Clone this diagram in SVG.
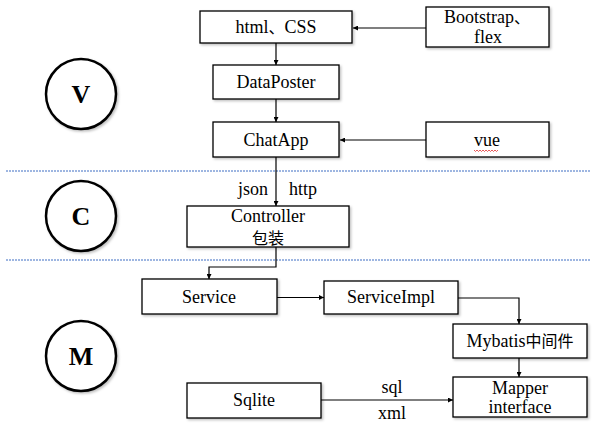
<svg xmlns="http://www.w3.org/2000/svg" width="606" height="431" viewBox="0 0 606 431" font-family="'Liberation Serif', 'Times New Roman', serif">
<style>
.box{fill:#fff;stroke:#000;stroke-width:1.3;filter:url(#sh)}
.t{font-size:18px;fill:#000;text-anchor:middle}
.lbl{font-size:18px;fill:#000}
.cjk{font-family:'Noto Sans CJK SC',sans-serif;font-size:16px}
.circ{fill:#fff;stroke:#000;stroke-width:2.5;filter:url(#sh)}
.big{font-size:26px;font-weight:bold;text-anchor:middle}
.c{fill:none;stroke:#000;stroke-width:1.2}
.sep{stroke:#7f9fd8;stroke-width:1.3;stroke-dasharray:2 1}
</style>
<defs>
<filter id="sh" x="-10%" y="-10%" width="130%" height="140%">
<feDropShadow dx="1.5" dy="1.5" stdDeviation="1" flood-color="#000" flood-opacity="0.25"/>
</filter>
<marker id="a" viewBox="0 0 10 10" refX="10" refY="5" markerWidth="5" markerHeight="5" orient="auto" markerUnits="userSpaceOnUse">
<path d="M0,0 L10,5 L0,10 z" fill="#000"/>
</marker>
</defs>
<rect width="606" height="431" fill="#fff"/>
<g id="separators">
<line class="sep" x1="6" y1="171" x2="590" y2="171"/>
<line class="sep" x1="6" y1="260" x2="590" y2="260"/>
</g>
<g id="layer-V"><circle class="circ" cx="81" cy="94" r="35"/><text class="big" x="81" y="103">V</text></g>
<g id="layer-C"><circle class="circ" cx="81" cy="216" r="35"/><text class="big" x="81" y="225">C</text></g>
<g id="layer-M"><circle class="circ" cx="81" cy="356" r="35"/><text class="big" x="81" y="365">M</text></g>
<g id="connectors">
<line class="c" x1="426" y1="28" x2="353" y2="28" marker-end="url(#a)"/>
<line class="c" x1="276" y1="43" x2="276" y2="65" marker-end="url(#a)"/>
<line class="c" x1="276" y1="99" x2="276" y2="122" marker-end="url(#a)"/>
<line class="c" x1="426" y1="140" x2="340" y2="140" marker-end="url(#a)"/>
<line class="c" x1="276" y1="157" x2="276" y2="206" marker-end="url(#a)"/>
<polyline class="c" points="276,247 276,267 209,267 209,279" marker-end="url(#a)"/>
<line class="c" x1="277" y1="297.5" x2="324" y2="297.5" marker-end="url(#a)"/>
<polyline class="c" points="458,298 519,298 519,324" marker-end="url(#a)"/>
<line class="c" x1="519" y1="358" x2="519" y2="377" marker-end="url(#a)"/>
<line class="c" x1="321" y1="400" x2="453" y2="400" marker-end="url(#a)"/>
<text class="lbl" x="268" y="195" text-anchor="end">json</text>
<text class="lbl" x="289" y="195">http</text>
<text class="lbl" x="392" y="393" text-anchor="middle">sql</text>
<text class="lbl" x="392" y="419" text-anchor="middle">xml</text>
</g>
<g id="html-css"><rect class="box" x="200" y="11" width="152" height="32"/><text class="t" x="276" y="33">html<tspan class="cjk">、</tspan>CSS</text></g>
<g id="bootstrap"><rect class="box" x="426" y="7" width="123" height="40"/><text class="t" x="487" y="23">Bootstrap<tspan class="cjk">、</tspan></text><text class="t" x="488" y="43">flex</text></g>
<g id="dataposter"><rect class="box" x="213" y="65" width="126" height="34"/><text class="t" x="276" y="88">DataPoster</text></g>
<g id="chatapp"><rect class="box" x="213" y="122" width="126" height="35"/><text class="t" x="276" y="146">ChatApp</text></g>
<g id="vue"><rect class="box" x="426" y="122" width="123" height="35"/><text class="t" x="487" y="146">vue</text><path d="M474,150 l1.5,1.5 l1.5,-1.5 l1.5,1.5 l1.5,-1.5 l1.5,1.5 l1.5,-1.5 l1.5,1.5 l1.5,-1.5 l1.5,1.5 l1.5,-1.5 l1.5,1.5 l1.5,-1.5 l1.5,1.5 l1.5,-1.5 l1.5,1.5 l1.5,-1.5" fill="none" stroke="#e03030" stroke-width="0.8"/></g>
<g id="controller"><rect class="box" x="187" y="206" width="162" height="41"/><text class="t" x="268" y="222">Controller</text><text class="t cjk" x="268" y="244">包装</text></g>
<g id="service"><rect class="box" x="142" y="279" width="135" height="35"/><text class="t" x="209" y="303">Service</text></g>
<g id="serviceimpl"><rect class="box" x="324" y="281" width="134" height="33"/><text class="t" x="391" y="303">ServiceImpl</text></g>
<g id="mybatis"><rect class="box" x="453" y="324" width="134" height="34"/><text class="t" x="520" y="347">Mybatis<tspan class="cjk">中间件</tspan></text></g>
<g id="mapper"><rect class="box" x="453" y="377" width="134" height="40"/><text class="t" x="520" y="394">Mapper</text><text class="t" x="520" y="413">interface</text></g>
<g id="sqlite"><rect class="box" x="187" y="383" width="134" height="35"/><text class="t" x="254" y="406">Sqlite</text></g>
</svg>
